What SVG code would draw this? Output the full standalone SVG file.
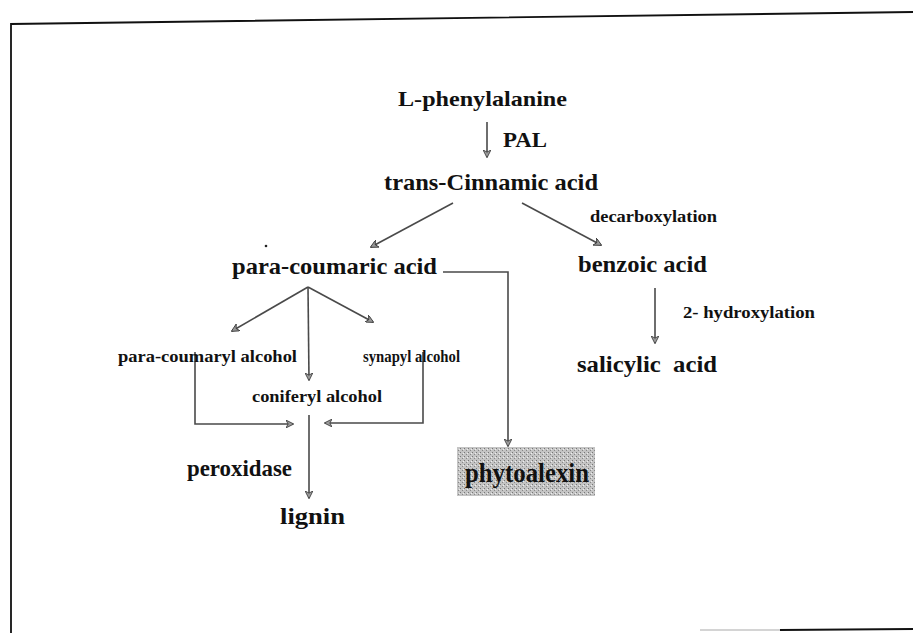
<svg xmlns="http://www.w3.org/2000/svg" width="913" height="633" viewBox="0 0 913 633">
<style>
.t{font-family:"Liberation Serif","Times New Roman",serif;font-weight:bold;fill:#111;white-space:pre}
.big{font-size:23px}
.mid{font-size:22px}
.sm{font-size:16px}
.c{fill:none;stroke:#4a4a4a;stroke-width:1.6}
.frame{fill:none;stroke:#111;stroke-width:1.8}
</style>
<defs>
<marker id="a" viewBox="0 0 10 10" refX="9" refY="5" markerWidth="8" markerHeight="8" orient="auto" markerUnits="userSpaceOnUse">
<path d="M0,0 L10,5 L0,10 L3,5 z" fill="#9a9a9a" stroke="#333" stroke-width="1"/>
</marker>
<pattern id="stip" width="4" height="4" patternUnits="userSpaceOnUse">
<rect width="4" height="4" fill="#c4c4c4"/>
<rect x="0" y="0" width="1" height="1" fill="#777"/>
<rect x="2" y="2" width="1" height="1" fill="#888"/>
<rect x="3" y="1" width="1" height="1" fill="#eee"/>
</pattern>
</defs>

<g id="frame">
<polyline class="frame" points="11,633 11,24 913,12"/>
<line x1="780" y1="630" x2="913" y2="629" stroke="#111" stroke-width="1.8"/>
<line x1="700" y1="630" x2="780" y2="630" stroke="#aaa" stroke-width="1.2"/>
<circle cx="266" cy="246" r="1.3" fill="#222"/>
</g>

<g id="connectors">
<line class="c" x1="487" y1="122" x2="487" y2="157" marker-end="url(#a)"/>
<line class="c" x1="453" y1="203" x2="371" y2="247" marker-end="url(#a)"/>
<line class="c" x1="522" y1="203" x2="601" y2="245" marker-end="url(#a)"/>
<line class="c" x1="655" y1="288" x2="655" y2="343" marker-end="url(#a)"/>
<polyline class="c" points="443,272 508,272 508,446" marker-end="url(#a)"/>
<line class="c" x1="308" y1="287" x2="232" y2="331" marker-end="url(#a)"/>
<line class="c" x1="308" y1="287" x2="373" y2="322" marker-end="url(#a)"/>
<line class="c" x1="308" y1="287" x2="309" y2="380" marker-end="url(#a)"/>
<polyline class="c" points="195,352 195,424 293,424" marker-end="url(#a)"/>
<polyline class="c" points="423,352 423,423 325,423" marker-end="url(#a)"/>
<line class="c" x1="309" y1="415" x2="309" y2="498" marker-end="url(#a)"/>
</g>

<g id="l-phenylalanine"><text class="t mid" x="398" y="106" textLength="169" lengthAdjust="spacingAndGlyphs">L-phenylalanine</text></g>
<g id="pal"><text class="t mid" x="503" y="147" textLength="44" lengthAdjust="spacingAndGlyphs">PAL</text></g>
<g id="trans-cinnamic-acid"><text class="t big" x="384" y="190" textLength="214" lengthAdjust="spacingAndGlyphs">trans-Cinnamic acid</text></g>
<g id="decarboxylation"><text class="t sm" x="590" y="222" textLength="127" lengthAdjust="spacingAndGlyphs">decarboxylation</text></g>
<g id="para-coumaric-acid"><text class="t big" x="232" y="274" textLength="205" lengthAdjust="spacingAndGlyphs">para-coumaric acid</text></g>
<g id="benzoic-acid"><text class="t big" x="578" y="272" textLength="129" lengthAdjust="spacingAndGlyphs">benzoic acid</text></g>
<g id="hydroxylation"><text class="t sm" x="683" y="318" textLength="132" lengthAdjust="spacingAndGlyphs">2- hydroxylation</text></g>
<g id="salicylic-acid"><text class="t big" x="577" y="372" textLength="140" lengthAdjust="spacingAndGlyphs">salicylic  acid</text></g>
<g id="para-coumaryl-alcohol"><text class="t sm" x="118" y="362" textLength="179" lengthAdjust="spacingAndGlyphs">para-coumaryl alcohol</text></g>
<g id="synapyl-alcohol"><text class="t sm" x="363" y="362" textLength="97" lengthAdjust="spacingAndGlyphs">synapyl alcohol</text></g>
<g id="coniferyl-alcohol"><text class="t sm" x="252" y="402" textLength="130" lengthAdjust="spacingAndGlyphs">coniferyl alcohol</text></g>
<g id="peroxidase"><text class="t big" x="187" y="476" textLength="105" lengthAdjust="spacingAndGlyphs">peroxidase</text></g>
<g id="lignin"><text class="t big" x="280" y="524" textLength="65" lengthAdjust="spacingAndGlyphs">lignin</text></g>
<g id="phytoalexin">
<rect x="457" y="447" width="138" height="49" fill="url(#stip)"/>
<text class="t" style="font-size:27px" x="465" y="482" textLength="124" lengthAdjust="spacingAndGlyphs">phytoalexin</text>
</g>
</svg>
